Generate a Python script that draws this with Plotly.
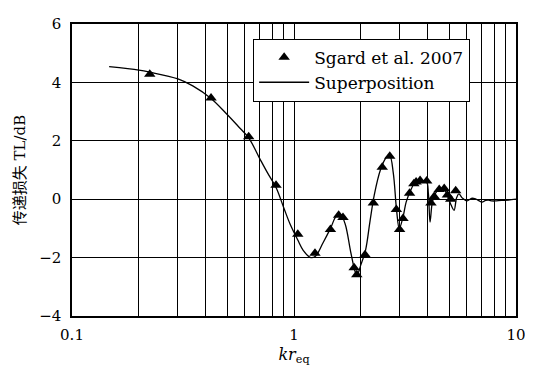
import plotly.graph_objects as go

# Measured data (Sgard et al. 2007)
sgard_kr = [0.224, 0.423, 0.625, 0.830, 1.040, 1.243, 1.459, 1.589, 1.662, 1.866, 1.918,
            2.089, 2.277, 2.497, 2.700, 2.891, 2.990, 3.097, 3.315, 3.467, 3.548, 3.698,
            3.960, 4.140, 4.280, 4.510, 4.750, 4.910, 5.080, 5.350]
sgard_tl = [4.28, 3.47, 2.14, 0.48, -1.20, -1.85, -1.04, -0.55, -0.63, -2.35, -2.59,
            -1.90, -0.13, 1.09, 1.47, -0.35, -1.04, -0.66, 0.20, 0.53, 0.59, 0.64,
            0.62, -0.13, 0.09, 0.33, 0.37, 0.14, 0.00, 0.29]

# Superposition curve
sup_kr = [0.147, 0.20, 0.224, 0.30, 0.35, 0.423, 0.50, 0.56, 0.625, 0.70, 0.76, 0.83,
          0.90, 0.96, 1.04, 1.10, 1.19, 1.25, 1.35, 1.46, 1.55, 1.62, 1.70, 1.80, 1.88,
          1.92, 2.00, 2.10, 2.20, 2.30, 2.45, 2.60, 2.70, 2.80, 2.90, 2.98, 3.10, 3.20,
          3.35, 3.50, 3.70, 3.95, 4.03, 4.10, 4.20, 4.35, 4.55, 4.75, 4.95, 5.10, 5.26,
          5.40, 5.53, 5.75, 6.03, 6.30, 6.57, 6.80, 7.03, 7.30, 7.53, 7.80, 8.06, 8.60,
          9.24, 10.0]
sup_tl = [4.54, 4.42, 4.35, 4.12, 3.88, 3.45, 2.90, 2.50, 2.10, 1.40, 0.90, 0.40,
          -0.30, -0.85, -1.40, -1.75, -2.00, -1.95, -1.50, -1.00, -0.58, -0.52, -0.85,
          -1.80, -2.45, -2.62, -2.25, -1.75, -0.75, 0.15, 1.00, 1.42, 1.48, 0.90, -0.40,
          -1.00, -0.60, -0.10, 0.30, 0.55, 0.63, 0.60, 0.20, -0.78, -0.10, 0.22, 0.36,
          0.33, 0.05, -0.20, -0.38, 0.05, 0.18, 0.03, -0.06, 0.03, 0.01, -0.05, -0.10,
          -0.04, -0.03, -0.06, -0.06, -0.04, -0.03, 0.0]

x_tickvals = [0.1, 1, 10]
x_ticktext = ["0.1", "1", "10"]
x_minorvals = [0.2, 0.3, 0.4, 0.5, 0.6, 0.7, 0.8, 0.9, 2, 3, 4, 5, 6, 7, 8, 9]
y_tickvals = [-4, -2, 0, 2, 4, 6]

font_fam = "DejaVu Serif, Noto Sans CJK SC"

fig = go.Figure()
fig.add_trace(go.Scatter(
    x=sgard_kr, y=sgard_tl, mode="markers", name="Sgard et al. 2007",
    marker=dict(symbol="triangle-up", size=10, color="black"),
))
fig.add_trace(go.Scatter(
    x=sup_kr, y=sup_tl, mode="lines", name="Superposition",
    line=dict(color="black", width=1.3, shape="spline", smoothing=1.0),
))

fig.update_layout(
    width=525, height=366,
    margin=dict(l=64, r=12, t=7, b=58),
    paper_bgcolor="white", plot_bgcolor="white",
    font=dict(family=font_fam, size=15, color="black"),
    showlegend=True,
    legend=dict(
        x=0.408, y=0.95, xanchor="left", yanchor="top",
        bgcolor="white", bordercolor="black", borderwidth=1,
        font=dict(size=17, family=font_fam),
        tracegroupgap=0, itemwidth=50,
    ),
)
fig.update_xaxes(
    type="log", range=[-1, 1],
    tickvals=x_tickvals, ticktext=x_ticktext, tickangle=0,
    showgrid=True, gridcolor="black", gridwidth=1,
    minor=dict(tickvals=x_minorvals, showgrid=True, gridcolor="black", gridwidth=1, ticks=""),
    showline=True, linecolor="black", linewidth=1.5, mirror=True,
    ticks="", zeroline=False, ticklabelstandoff=4,
    title=dict(text="<i>kr</i><sub>eq</sub>", font=dict(size=16), standoff=6),
)
fig.update_yaxes(
    range=[-4, 6], tickvals=y_tickvals,
    showgrid=True, gridcolor="black", gridwidth=1,
    showline=True, linecolor="black", linewidth=1.5, mirror=True,
    ticks="", zeroline=False, ticklabelstandoff=6,
    title=dict(text="传递损失 TL/dB", font=dict(size=15), standoff=10),
)

fig.write_html("out.html")
